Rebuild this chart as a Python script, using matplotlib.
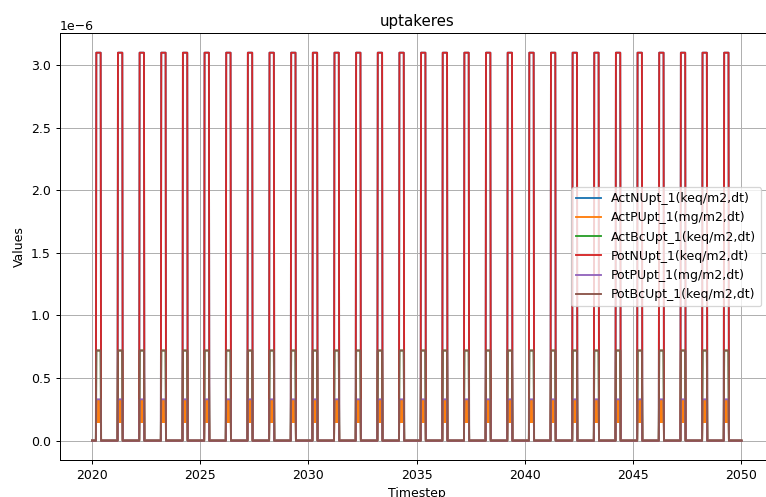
import numpy as np
import matplotlib
matplotlib.use("Agg")
import matplotlib.pyplot as plt

# ---- data ----
years = list(range(2020, 2050))          # one growing-season pulse per year
steps_per_year = 50                      # sub-annual time steps
season_start_step = 10                   # season begins at ~0.20 of the year
# values during one growing season (11 steps), units as in legend (x1e-6 on axis)
act_n_season  = [3.1e-6] * 11
act_p_season  = [0.32e-6, 0.15e-6, 0.32e-6, 0.15e-6, 0.32e-6, 0.15e-6,
                 0.32e-6, 0.15e-6, 0.32e-6, 0.15e-6, 0.32e-6]
act_bc_season = [0.72e-6] * 11
pot_n_season  = [3.1e-6] * 11
pot_p_season  = [0.33e-6] * 11
pot_bc_season = [0.72e-6] * 11

labels = ["ActNUpt_1(keq/m2,dt)", "ActPUpt_1(mg/m2,dt)", "ActBcUpt_1(keq/m2,dt)",
          "PotNUpt_1(keq/m2,dt)", "PotPUpt_1(mg/m2,dt)", "PotBcUpt_1(keq/m2,dt)"]
seasons = [act_n_season, act_p_season, act_bc_season,
           pot_n_season, pot_p_season, pot_bc_season]

n_years = len(years)
t = years[0] + np.arange(n_years * steps_per_year + 1) / steps_per_year

def build(season):
    one_year = np.zeros(steps_per_year)
    one_year[season_start_step:season_start_step + len(season)] = season
    return np.append(np.tile(one_year, n_years), 0.0)

DPI = 90
fig = plt.figure(figsize=(766 / DPI, 497 / DPI), dpi=DPI)
ax = fig.add_axes([0.0777, 0.0744, 0.9327, 0.8586])
for lab, s in zip(labels, seasons):
    ax.plot(t, build(s), label=lab)

ax.set_title("uptakeres")
ax.set_xlabel("Timestep")
ax.set_ylabel("Values")
ax.grid(True)
ax.legend(loc="center left", bbox_to_anchor=(571 / 766, 0.5037),
          bbox_transform=fig.transFigure, borderaxespad=0)
fig.savefig("out.png", dpi=DPI)
